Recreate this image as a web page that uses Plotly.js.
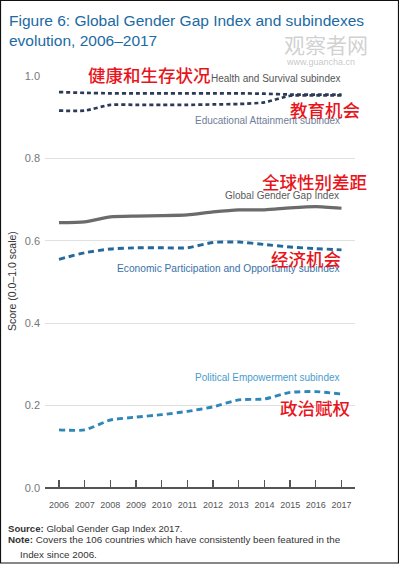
<!DOCTYPE html>
<html>
<head>
<meta charset="utf-8">
<script src="https://cdn.plot.ly/plotly-3.0.1.min.js"></script>
<style>
html,body{margin:0;padding:0;background:#fff;}
#chart{width:399px;height:565px;}
</style>
</head>
<body>
<div id="chart"></div>
<script>
const years = [2006,2007,2008,2009,2010,2011,2012,2013,2014,2015,2016,2017];
const yearLabels = ["2006","2007","2008","2009","2010","2011","2012","2013","2014","2015","2016","2017"];
const healthSurvival = [0.961,0.959,0.958,0.958,0.958,0.958,0.958,0.958,0.957,0.955,0.955,0.955];
const educationalAttainment = [0.916,0.916,0.930,0.930,0.930,0.930,0.931,0.932,0.936,0.952,0.953,0.953];
const globalIndex = [0.644,0.646,0.658,0.660,0.661,0.663,0.670,0.675,0.675,0.680,0.683,0.679];
const economicParticipation = [0.555,0.571,0.580,0.583,0.583,0.583,0.596,0.597,0.591,0.585,0.581,0.578];
const politicalEmpowerment = [0.141,0.141,0.165,0.172,0.178,0.186,0.197,0.214,0.216,0.232,0.234,0.228];
const yTicks = [0.0,0.2,0.4,0.6,0.8,1.0];
const yTickLabels = ["0.0","0.2","0.4","0.6","0.8","1.0"];

const traces = [
  {x: years, y: healthSurvival, mode:'lines', line:{color:'#2c3a57', width:2.7, dash:'4px,3px', shape:'spline', smoothing:0.6}},
  {x: years, y: educationalAttainment, mode:'lines', line:{color:'#2c3a57', width:2.7, dash:'4px,3px', shape:'spline', smoothing:0.6}},
  {x: years, y: globalIndex, mode:'lines', line:{color:'#6b6b6b', width:3.2, shape:'spline', smoothing:0.6}},
  {x: years, y: economicParticipation, mode:'lines', line:{color:'#24689c', width:2.9, dash:'6px,4px', shape:'spline', smoothing:0.6}},
  {x: years, y: politicalEmpowerment, mode:'lines', line:{color:'#2f86b8', width:2.9, dash:'6px,4px', shape:'spline', smoothing:0.6}}
];

const F = 'Liberation Sans, Arial, sans-serif';
const CJK = 'Noto Sans CJK SC, sans-serif';
function px2x(p){ return (p-45)/310; }
function px2y(p){ return (488-p)/412; }
function txt(text, xp, yp, color, size, anchor, family, extra){
  const a = {text:text, x:px2x(xp), y:px2y(yp), xref:'paper', yref:'paper', showarrow:false, xanchor:anchor||'right', yanchor:'middle', font:{family:family||F, size:size||10, color:color}};
  return Object.assign(a, extra||{});
}
function cn(text, xp, yp){
  const a = txt(text, xp, yp, '#e8141b', 17.5, 'left', CJK);
  a.font.weight = 500;
  return a;
}

const annotations = [
  txt('Figure 6: Global Gender Gap Index and subindexes<br>evolution, 2006–2017', 7, 10, '#1b6aa3', 15.5, 'left', F, {yanchor:'top', align:'left'}),
  txt('Health and Survival subindex', 343, 78, '#555555', 10),
  txt('Educational Attainment subindex', 342, 121, '#6f7d99', 10),
  txt('Global Gender Gap Index', 341, 195, '#5a5a5a', 10),
  txt('Economic Participation and Opportunity subindex', 342, 268, '#3a72a8', 10.2),
  txt('Political Empowerment subindex', 342, 377, '#4a9ccc', 10),
  cn('健康和生存状况', 86, 75),
  cn('教育机会', 288, 110),
  cn('全球性别差距', 260, 181),
  cn('经济机会', 269, 258),
  cn('政治赋权', 278, 407),
  txt('观察者网', 282, 44, 'rgba(170,170,170,0.55)', 21, 'left', CJK),
  txt('www.guancha.cn', 284, 62, 'rgba(160,160,160,0.6)', 9, 'left'),
  txt('Score (0.0–1.0 scale)', 12, 281, '#333', 10.5, 'center', F, {textangle:-90}),
  txt('<b>Source:</b> Global Gender Gap Index 2017.', 6, 528, '#333', 9.6, 'left'),
  txt('<b>Note:</b> Covers the 106 countries which have consistently been featured in the', 6, 539, '#333', 9.8, 'left'),
  txt('Index since 2006.', 18, 554, '#333', 9.8, 'left')
];

const layout = {
  width:399, height:565,
  margin:{l:45, r:44, t:76, b:77},
  paper_bgcolor:'#fff', plot_bgcolor:'#fff',
  showlegend:false,
  xaxis:{range:[2006-14/25.73, 2017+13.5/25.73], tickvals:years, ticktext:yearLabels, ticks:'inside', ticklen:8, tickwidth:1.3, tickcolor:'#555', showgrid:false, zeroline:false, showline:false, tickfont:{family:F, size:9, color:'#555'}, ticklabelstandoff:10, fixedrange:true},
  yaxis:{range:[0,1.0], tickvals:yTicks, ticktext:yTickLabels, showgrid:true, gridcolor:'#e0e0e0', gridwidth:1, zeroline:true, zerolinecolor:'#555', zerolinewidth:1.5, showline:false, ticks:'', tickfont:{family:F, size:11, color:'#777'}, ticklabelstandoff:4, fixedrange:true},
  annotations: annotations,
  shapes:[
    {type:'rect', xref:'paper', yref:'paper', x0:px2x(0.5), x1:px2x(398.5), y0:px2y(563), y1:px2y(0.5), line:{color:'#111', width:1.2}, fillcolor:'rgba(0,0,0,0)'}
  ]
};

Plotly.newPlot('chart', traces, layout, {staticPlot:true, displayModeBar:false});
</script>
</body>
</html>
